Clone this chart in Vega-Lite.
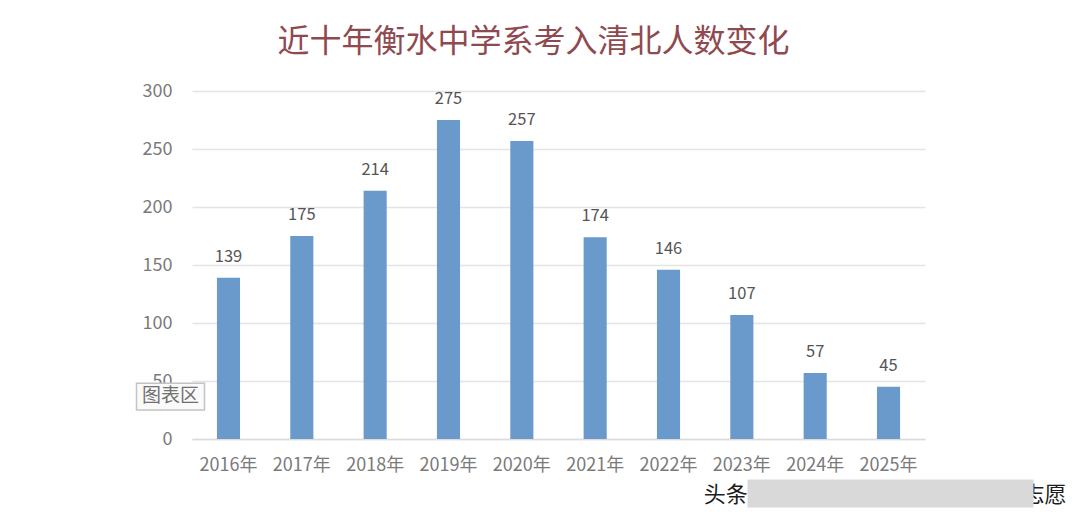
{"$schema":"https://vega.github.io/schema/vega-lite/v6.json","width":733,"height":348,"autosize":{"type":"none"},"padding":{"left":192,"top":91,"right":155,"bottom":85},"background":"#ffffff","view":{"stroke":null},"title":{"text":"近十年衡水中学系考入清北人数变化","anchor":"middle","font":"Noto Sans CJK SC","fontSize":32,"fontWeight":"normal","color":"#8f4a50","offset":23,"dx":-25},"datasets":{"bars":[{"year":"2016年","value":139},{"year":"2017年","value":175},{"year":"2018年","value":214},{"year":"2019年","value":275},{"year":"2020年","value":257},{"year":"2021年","value":174},{"year":"2022年","value":146},{"year":"2023年","value":107},{"year":"2024年","value":57},{"year":"2025年","value":45}],"box":[{"year":"2016年","low":25,"high":48}],"notes":[{"year":"2016年","value":37,"note":"图表区"}],"left":[{"year":"2023年","value":-48,"note":"头条"}],"right":[{"year":"2025年","value":-48,"note":"志愿"}],"strip":[{"year":"2025年","low":-59,"high":-35}]},"data":{"name":"bars"},"encoding":{"x":{"field":"year","type":"nominal","sort":null,"scale":{"paddingInner":0.685,"paddingOuter":0.34},"axis":{"title":null,"labelAngle":0,"labelFont":"Noto Sans CJK SC","labelFontSize":18,"labelColor":"#7a7a7a","labelPadding":17,"ticks":false,"domainColor":"#dcdcdc","domainWidth":1.5}}},"layer":[{"mark":{"type":"bar","color":"#6a9acb"},"encoding":{"y":{"field":"value","type":"quantitative","scale":{"domain":[0,300]},"axis":{"title":null,"values":[0,50,100,150,200,250,300],"labelFont":"Noto Sans CJK SC","labelFontSize":18,"labelColor":"#7a7a7a","labelPadding":20,"ticks":false,"domain":false,"gridColor":"#e4e4e4","gridWidth":1.5}}}},{"mark":{"type":"text","dy":-21,"font":"Noto Sans CJK SC","fontSize":16.5,"color":"#555555"},"encoding":{"y":{"field":"value","type":"quantitative"},"text":{"field":"value","type":"quantitative"}}},{"data":{"name":"box"},"mark":{"type":"bar","width":68,"xOffset":-58,"color":"#fafafa","stroke":"#c4c4c4","strokeWidth":1.5},"encoding":{"y":{"field":"low","type":"quantitative"},"y2":{"field":"high"}}},{"data":{"name":"notes"},"mark":{"type":"text","dx":-58,"font":"Noto Sans CJK SC","fontSize":19,"color":"#707070"},"encoding":{"y":{"field":"value","type":"quantitative"},"text":{"field":"note"}}},{"data":{"name":"left"},"mark":{"type":"text","dx":-16,"font":"Noto Sans CJK SC","fontSize":22,"color":"#1c1c1c"},"encoding":{"y":{"field":"value","type":"quantitative"},"text":{"field":"note"}}},{"data":{"name":"right"},"mark":{"type":"text","dx":156,"font":"Noto Sans CJK SC","fontSize":22,"color":"#1c1c1c"},"encoding":{"y":{"field":"value","type":"quantitative"},"text":{"field":"note"}}},{"data":{"name":"strip"},"mark":{"type":"bar","width":286,"xOffset":2,"color":"#d9d9d9"},"encoding":{"y":{"field":"low","type":"quantitative"},"y2":{"field":"high"}}}]}
